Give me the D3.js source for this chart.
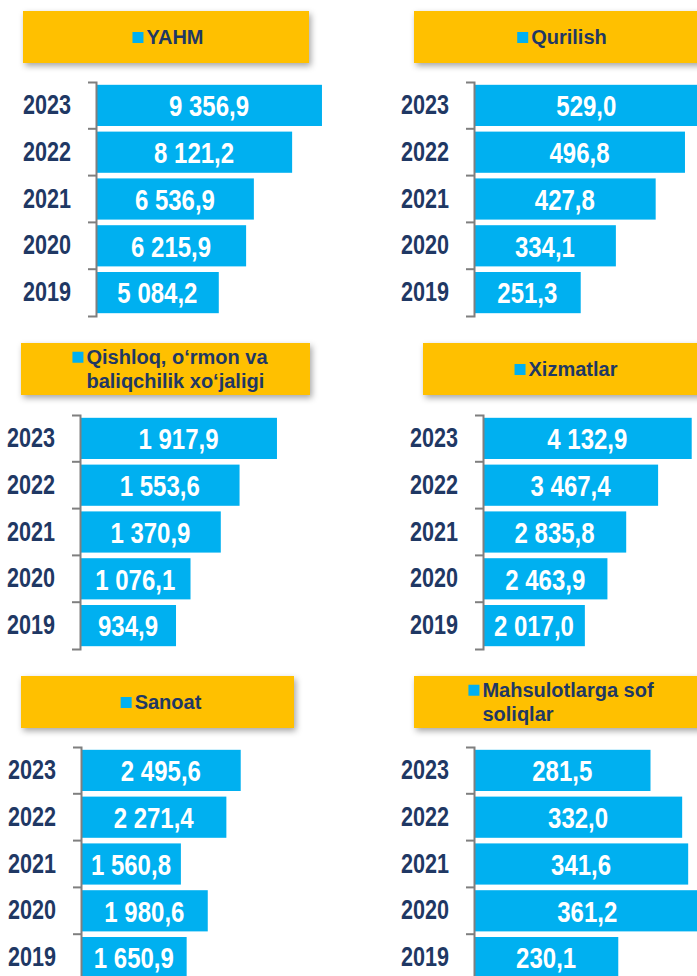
<!DOCTYPE html>
<html>
<head>
<meta charset="utf-8">
<style>
  body { margin: 0; background: #fff; }
  svg { display: block; }
</style>
</head>
<body>
<svg width="697" height="976"></svg>
<script src="https://d3js.org/d3.v7.min.js"></script>
<script>
  var years = ["2023", "2022", "2021", "2020", "2019"];
  var categories = ["YAHM", "Qurilish", "Qishloq, o‘rmon va\nbaliqchilik xo‘jaligi",
                    "Xizmatlar", "Sanoat", "Mahsulotlarga sof\nsoliqlar"];
  var yahm      = [9356.9, 8121.2, 6536.9, 6215.9, 5084.2];
  var qurilish  = [529.0, 496.8, 427.8, 334.1, 251.3];
  var qishloq   = [1917.9, 1553.6, 1370.9, 1076.1, 934.9];
  var xizmatlar = [4132.9, 3467.4, 2835.8, 2463.9, 2017.0];
  var sanoat    = [2495.6, 2271.4, 1560.8, 1980.6, 1650.9];
  var soliqlar  = [281.5, 332.0, 341.6, 361.2, 230.1];

  var navy = "#1f3864", blue = "#00b0f0", gold = "#ffc000", axisGray = "#7f7f7f";
  var sans = "'Liberation Sans', Arial, sans-serif";
  var squeeze = 0.8; // narrow look for the numbers

  var svg = d3.select("svg");

  var defs = svg.append("defs");
  defs.append("filter").attr("id", "shadow")
      .attr("x", "-10%").attr("y", "-30%").attr("width", "125%").attr("height", "170%")
    .append("feDropShadow")
      .attr("dx", 2).attr("dy", 3).attr("stdDeviation", 3)
      .attr("flood-color", "#000").attr("flood-opacity", 0.35);

  var fmt = d3.formatLocale({decimal: ",", thousands: " ", grouping: [3], currency: ["", ""]}).format(",.1f");

  // panel layout (header box, axis origin, scale width)
  var panels = [
    {name: categories[0], values: yahm,      hx: 23,  hy: 11,  hw: 286, tcx: 168, ax: 96,  ay: 82,  dmax: 10000, dw: 241.5},
    {name: categories[1], values: qurilish,  hx: 414, hy: 11,  hw: 300, tcx: 562, ax: 474, ay: 82,  dmax: 600,   dw: 254.8},
    {name: categories[2], values: qishloq,   hx: 21,  hy: 343, hw: 289, tcx: 170, ax: 80,  ay: 415, dmax: 2000,  dw: 205.4},
    {name: categories[3], values: xizmatlar, hx: 423, hy: 343, hw: 290, tcx: 566, ax: 483, ay: 415, dmax: 5000,  dw: 252.5},
    {name: categories[4], values: sanoat,    hx: 21,  hy: 676, hw: 273, tcx: 161, ax: 81,  ay: 747, dmax: 3000,  dw: 192},
    {name: categories[5], values: soliqlar,  hx: 414, hy: 676, hw: 300, tcx: 561, ax: 474, ay: 747, dmax: 400,   dw: 250.8}
  ];

  panels.forEach(function(p) {
    var g = svg.append("g");

    // header box
    g.append("rect")
        .attr("x", p.hx).attr("y", p.hy)
        .attr("width", p.hw).attr("height", 52)
        .attr("fill", gold)
        .attr("filter", "url(#shadow)");

    var lines = p.name.split("\n");
    var cy = p.hy + 26;
    var head = g.append("g");
    var texts = head.selectAll("text").data(lines).enter().append("text")
        .attr("y", function(d, i) { return cy + (i - (lines.length - 1) / 2) * 24.5 + 7.2; })
        .attr("fill", navy)
        .style("font-family", sans)
        .style("font-weight", "bold")
        .style("font-size", "20px")
        .text(function(d) { return d; });
    var maxW = 0;
    texts.each(function() { maxW = Math.max(maxW, this.getComputedTextLength()); });
    var left = p.tcx - (11 + 3 + maxW) / 2;
    texts.attr("x", left + 14);
    head.append("rect")
        .attr("x", left)
        .attr("y", cy - (lines.length - 1) / 2 * 24.5 - 5)
        .attr("width", 11).attr("height", 11)
        .attr("fill", blue);

    // scales
    var y = d3.scaleBand()
        .domain(years)
        .range([p.ay, p.ay + 234])
        .paddingInner(0.12)
        .paddingOuter(0.06);

    var x = d3.scaleLinear()
        .domain([0, p.dmax])
        .range([p.ax, p.ax + p.dw]);

    var rows = years.map(function(yr, i) { return {year: yr, value: p.values[i]}; });

    g.selectAll(".bar").data(rows).enter().append("rect")
        .attr("class", "bar")
        .attr("x", x(0))
        .attr("y", function(d) { return y(d.year); })
        .attr("width", function(d) { return x(d.value) - x(0); })
        .attr("height", y.bandwidth())
        .attr("fill", blue);

    g.selectAll(".val").data(rows).enter().append("text")
        .attr("class", "val")
        .attr("transform", function(d) {
          return "translate(" + (x(0) + x(d.value)) / 2 + "," + (y(d.year) + y.bandwidth() / 2) + ") scale(" + squeeze + ",1)";
        })
        .attr("dy", "0.36em")
        .attr("text-anchor", "middle")
        .attr("fill", "#fff")
        .style("font-family", sans)
        .style("font-weight", "bold")
        .style("font-size", "30px")
        .text(function(d) { return fmt(d.value); });

    // axis
    var axis = g.append("g")
        .attr("transform", "translate(" + p.ax + ",0)")
        .call(d3.axisLeft(y).tickSizeInner(0).tickSizeOuter(8).tickPadding(25));
    axis.select(".domain")
        .attr("stroke", axisGray)
        .attr("stroke-width", 2);
    axis.selectAll(".tick text")
        .attr("x", -25 / squeeze)
        .attr("transform", "scale(" + squeeze + ",1)")
        .attr("fill", navy)
        .style("font-family", sans)
        .style("font-weight", "bold")
        .style("font-size", "27px");

    // tick marks between categories
    axis.selectAll(".sep").data(years.slice(1)).enter().append("line")
        .attr("class", "sep")
        .attr("x1", -8).attr("x2", 0)
        .attr("y1", function(d) { return y(d) - y.step() * y.paddingInner() / 2; })
        .attr("y2", function(d) { return y(d) - y.step() * y.paddingInner() / 2; })
        .attr("stroke", axisGray)
        .attr("stroke-width", 2);
  });
</script>
</body>
</html>
